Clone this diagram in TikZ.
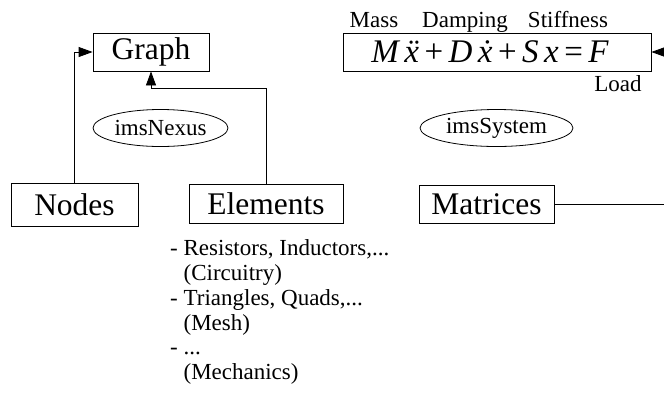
\documentclass[tikz,border=0pt]{standalone}
\usepackage{fontspec}
\setmainfont{Liberation Serif}
\usetikzlibrary{arrows.meta,shapes.geometric}

\tikzset{
  big/.style={font=\fontsize{31.5}{36}\selectfont},
  small/.style={font=\fontsize{23}{24.8}\selectfont},
  box/.style={draw, line width=0.8pt, inner sep=0pt, big},
  pkg/.style={draw, ellipse, line width=0.8pt, inner sep=0pt, small},
  arr/.style={line width=0.8pt, -{Triangle[length=14pt,width=10pt]}},
  lbl/.style={small, inner sep=0pt, anchor=base}
}

\begin{document}
\begin{tikzpicture}[x=1pt, y=-1pt]
  \useasboundingbox (0,0) rectangle (664,392);

  % class boxes
  \node[box, minimum width=116pt, minimum height=38pt] (gr) at (151,52) {Graph};
  \node[box, minimum width=127pt, minimum height=43pt] (nd) at (74.5,204.5) {Nodes};
  \node[box, minimum width=154pt, minimum height=39pt] (el) at (266,203.5) {Elements};
  \node[box, minimum width=135pt, minimum height=38pt] (mat) at (486.5,204) {Matrices};
  \node[box, minimum width=308pt, minimum height=38pt, font=\fontsize{33}{36}\selectfont] (eq) at (497,52)
    {\itshape M\,\"x\,\upshape+\,\itshape D\,\.x\,\upshape+\,\itshape S\,x\,\upshape=\,\itshape F\kern14pt};

  % package names
  \node[pkg, minimum width=135pt, minimum height=37pt] (nexus) at (160.5,128) {imsNexus};
  \node[pkg, minimum width=153pt, minimum height=37pt] (system) at (496.5,128) {imsSystem};

  % labels of the equation terms
  \node[lbl] (mass) at (374,27) {Mass};
  \node[lbl] (damp) at (465,27) {Damping};
  \node[lbl] (stiff) at (568,27) {Stiffness};
  \node[lbl] (load) at (618,91) {Load};

  % kinds of elements
  \node[small, anchor=north west, align=left, inner sep=0pt] (kinds) at (170,239.5)
    {- Resistors, Inductors,...\\
     \hphantom{-}\ (Circuitry)\\
     - Triangles, Quads,...\\
     \hphantom{-}\ (Mesh)\\
     - ...\\
     \hphantom{-}\ (Mechanics)};

  % connectors
  \coordinate (turn) at (690,0);
  \draw[arr] (nd.north) |- (gr.west);
  \draw[arr] (el.north) -- ++(0,-95) -| (gr.south);
  \draw[arr] (mat.east) -- (mat.east -| turn) |- (eq.east);
\end{tikzpicture}
\end{document}
